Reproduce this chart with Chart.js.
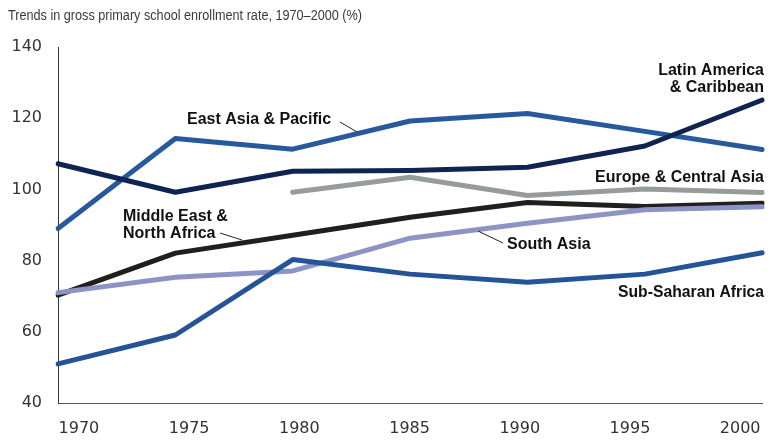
<!DOCTYPE html>
<html>
<head>
    <meta charset="UTF-8">
    <title>Gross primary school enrollment rate, 1970-2000</title>
    <script src="https://cdn.jsdelivr.net/npm/chart.js@4.4.1/dist/chart.umd.min.js"></script>
    <style>
        html, body { margin: 0; padding: 0; background: #fff; }
        #wrap { width: 777px; height: 442px; position: relative; }
    </style>
</head>
<body>
    <div id="wrap"><canvas id="myChart" width="777" height="442"></canvas></div>
    <script type="text/javascript">
        // data
        var years = [1970, 1975, 1980, 1985, 1990, 1995, 2000];
        var yearTicks = [1970, 1975, 1980, 1985, 1990, 1995, 2000];
        var valueTicks = [40, 60, 80, 100, 120, 140];

        var eastAsia = [89, 114.3, 111.3, 119.2, 121.3, 116.3, 111.2];
        var latinAmerica = [107.2, 99.2, 105.1, 105.3, 106.2, 112.2, 125.1];
        var europe = [null, null, 99.2, 103.4, 98.3, 100.1, 99.1];
        var middleEast = [70.3, 82.1, 87.1, 92.2, 96.3, 95.2, 96.1];
        var southAsia = [71, 75.3, 77.1, 86.3, 90.5, 94.3, 95.1];
        var subSaharan = [51, 59.1, 80.3, 76.2, 73.9, 76.2, 82.2];

        var TITLE = "Trends in gross primary school enrollment rate, 1970\u20132000 (%)";

        // label text, anchor (px), alignment, and optional leader line
        var notes = [
            { lines: ["East Asia & Pacific"], x: 187, y: 124, align: "left", w: 148, leader: [340, 122, 357, 132] },
            { lines: ["Latin America", "& Caribbean"], x: 764, y: 75, align: "right", w: 106 },
            { lines: ["Europe & Central Asia"], x: 764, y: 182, align: "right", w: 170 },
            { lines: ["Middle East &", "North Africa"], x: 123, y: 221, align: "left", w: 110, leader: [220, 233, 242, 240] },
            { lines: ["South Asia"], x: 507, y: 249, align: "left", w: 84, leader: [478, 231, 503, 243] },
            { lines: ["Sub-Saharan Africa"], x: 764, y: 297, align: "right", w: 146 }
        ];

        var textPlugin = {
            id: "textPlugin",
            afterDraw: function (chart) {
                var ctx = chart.ctx;
                ctx.save();
                ctx.fillStyle = "#3a3a3a";
                ctx.font = "14px 'Liberation Sans', Arial, sans-serif";
                ctx.textAlign = "left";
                ctx.textBaseline = "alphabetic";
                ctx.fillText(TITLE, 8, 20, 354);

                ctx.fillStyle = "#111";
                ctx.font = "bold 16px 'Liberation Sans', Arial, sans-serif";
                notes.forEach(function (n) {
                    ctx.textAlign = n.align;
                    for (var i = 0; i < n.lines.length; i++) {
                        var t = n.lines[i];
                        var mw = ctx.measureText(t).width;
                        var fit = n.w * (mw / ctx.measureText(n.lines[0]).width);
                        ctx.fillText(t, n.x, n.y + i * 17, Math.min(mw, fit));
                    }
                    if (n.leader) {
                        ctx.strokeStyle = "#222";
                        ctx.lineWidth = 1;
                        ctx.beginPath();
                        ctx.moveTo(n.leader[0], n.leader[1]);
                        ctx.lineTo(n.leader[2], n.leader[3]);
                        ctx.stroke();
                    }
                });
                ctx.restore();
            }
        };

        function series(data, color) {
            return {
                data: data,
                borderColor: color,
                borderWidth: 5,
                fill: false,
                pointRadius: 0,
                tension: 0,
                spanGaps: false,
                borderCapStyle: "round",
                borderJoinStyle: "round"
            };
        }

        new Chart("myChart", {
            type: "line",
            data: {
                labels: years,
                datasets: [
                    series(subSaharan, "#245497"),
                    series(southAsia, "#8c94c6"),
                    series(europe, "#969b9b"),
                    series(middleEast, "#1f201d"),
                    series(latinAmerica, "#0f2451"),
                    series(eastAsia, "#275a9c")
                ]
            },
            options: {
                responsive: false,
                animation: false,
                layout: { padding: { top: 47, right: 11, left: 0, bottom: 0 } },
                plugins: { legend: { display: false }, tooltip: { enabled: false } },
                scales: {
                    x: {
                        type: "category",
                        display: false,
                        offset: false
                    },
                    xt: {
                        type: "linear",
                        position: "bottom",
                        min: 1969.05,
                        max: 2001,
                        afterBuildTicks: function (scale) {
                            scale.ticks = yearTicks.map(function (v) { return { value: v }; });
                        },
                        afterFit: function (scale) { scale.height = 39; },
                        grid: { display: false, drawTicks: false },
                        border: { display: true, color: "#555", width: 1 },
                        ticks: {
                            color: "#333",
                            padding: 16,
                            maxRotation: 0,
                            autoSkip: false,
                            font: { family: "'DejaVu Sans'", size: 16 },
                            callback: function (v) { return String(v); }
                        }
                    },
                    y: {
                        min: 40,
                        max: 140,
                        afterBuildTicks: function (scale) {
                            scale.ticks = valueTicks.map(function (v) { return { value: v }; });
                        },
                        afterFit: function (scale) { scale.width = 58; },
                        grid: { display: false, drawTicks: false },
                        border: { display: true, color: "#333", width: 1 },
                        ticks: {
                            color: "#333",
                            padding: 16,
                            font: { family: "'DejaVu Sans'", size: 16 }
                        }
                    }
                }
            },
            plugins: [textPlugin]
        });
    </script>
</body>
</html>
